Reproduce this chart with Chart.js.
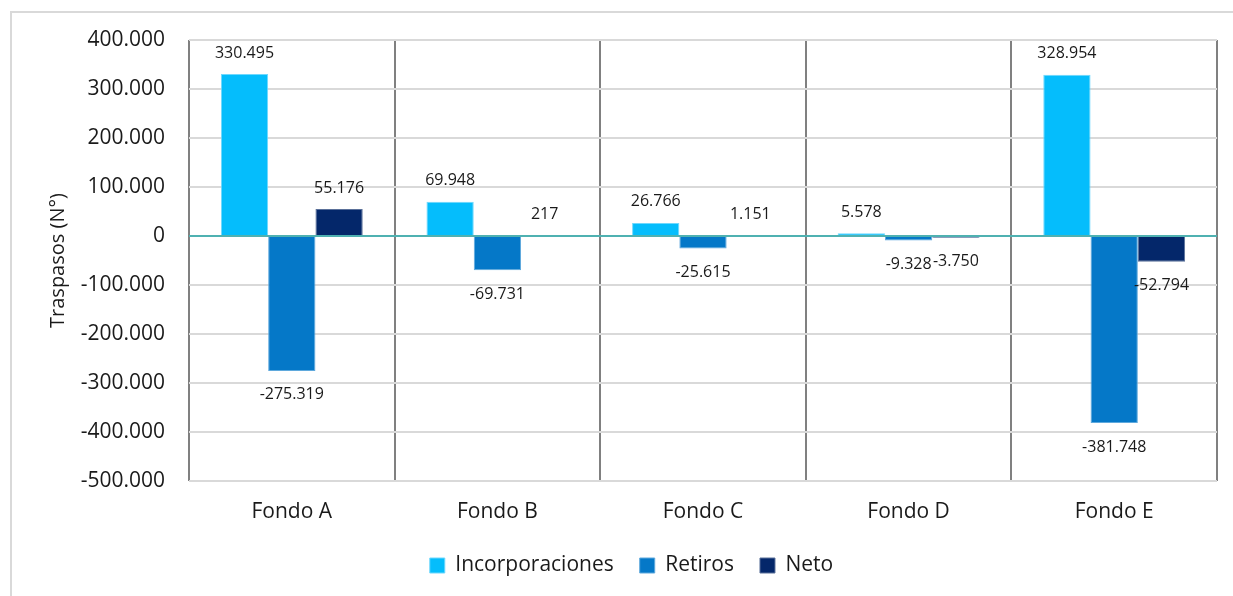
<!DOCTYPE html>
<html>
<head>
<meta charset="utf-8">
<script src="https://cdn.jsdelivr.net/npm/chart.js@4.4.1/dist/chart.umd.min.js"></script>
<style>
  body { margin: 0; background: #fff; }
  #wrap { position: relative; width: 1233px; height: 596px; }
  #frame { position: absolute; left: 10px; top: 11px; width: 1240px; height: 600px;
           border-left: 2px solid #d9d9d9; border-top: 2px solid #d9d9d9; }
</style>
</head>
<body>
<div id="wrap">
  <div id="frame"></div>
  <canvas id="bar-chart" width="1233" height="596"></canvas>
</div>
<script>
    var fondos = ["Fondo A", "Fondo B", "Fondo C", "Fondo D", "Fondo E"];
    var incorporaciones = [330495, 69948, 26766, 5578, 328954];
    var retiros = [-275319, -69731, -25615, -9328, -381748];
    var neto = [55176, 217, 1151, -3750, -52794];

    function miles(v) {
      var s = Math.abs(v).toString().replace(/\B(?=(\d{3})+(?!\d))/g, ".");
      return (v < 0 ? "-" : "") + s;
    }

    // zero line + value labels, excel style
    var extras = {
      id: 'extras',
      afterDatasetsDraw: function(chart) {
        var ctx = chart.ctx;
        var area = chart.chartArea;
        var y0 = chart.scales.y.getPixelForValue(0);
        ctx.save();
        ctx.strokeStyle = "#4fb1b1";
        ctx.lineWidth = 2;
        ctx.beginPath();
        ctx.moveTo(area.left, y0);
        ctx.lineTo(area.right, y0);
        ctx.stroke();

        ctx.font = Chart.helpers.toFont({ family: "'Open Sans'", size: 16 }).string;
        ctx.fillStyle = "#1a1a1a";
        ctx.textAlign = "center";
        ctx.textBaseline = "middle";
        chart.data.datasets.forEach(function(ds, i) {
          var meta = chart.getDatasetMeta(i);
          meta.data.forEach(function(bar, j) {
            var v = ds.data[j];
            var y = v >= 0 ? bar.y - 21 : bar.y + 24;
            ctx.fillText(miles(v), bar.x, y);
          });
        });
        ctx.restore();
      }
    };

    new Chart(document.getElementById("bar-chart"), {
      type: 'bar',
      data: {
        labels: fondos,
        datasets: [{
          label: "Incorporaciones",
          backgroundColor: "#05bdfc",
          borderColor: "#6fd8fd",
          borderWidth: 1,
          data: incorporaciones
        }, {
          label: "Retiros",
          backgroundColor: "#0578c8",
          borderColor: "#5fa9dd",
          borderWidth: 1,
          data: retiros
        }, {
          label: "Neto",
          backgroundColor: "#04276a",
          borderColor: "#5a7099",
          borderWidth: 1,
          data: neto
        }]
      },
      options: {
        responsive: false,
        animation: false,
        layout: { padding: { top: 40, right: 16, bottom: 10, left: 46 } },
        datasets: { bar: { categoryPercentage: 0.69, barPercentage: 1.0 } },
        plugins: {
          tooltip: { enabled: false },
          legend: {
            position: 'bottom',
            labels: {
              boxWidth: 15,
              boxHeight: 15,
              padding: 26,
              color: "#1a1a1a",
              font: { family: "'Open Sans'", size: 21 }
            }
          }
        },
        scales: {
          x: {
            afterFit: function(scale) { scale.height = 48; },
            grid: { offset: true, color: "#808080", lineWidth: 2, drawTicks: false },
            border: { display: false },
            ticks: { padding: 18, color: "#1a1a1a", font: { family: "'Open Sans'", size: 21 } }
          },
          y: {
            min: -500000,
            max: 400000,
            afterFit: function(scale) { scale.width = 143; },
            grid: {
              drawTicks: false,
              lineWidth: 2,
              color: function(c) { return c.tick && c.tick.value === 0 ? "rgba(0,0,0,0)" : "#d9d9d9"; }
            },
            border: { display: false },
            ticks: {
              stepSize: 100000,
              padding: 24,
              color: "#1a1a1a",
              font: { family: "'Open Sans'", size: 21 },
              callback: function(v) { return miles(v); }
            },
            title: {
              display: true,
              text: "Traspasos (N°)",
              color: "#1a1a1a",
              font: { family: "'Open Sans'", size: 20 },
              padding: { top: 0, bottom: 0 }
            }
          }
        }
      },
      plugins: [extras]
    });
</script>
</body>
</html>
